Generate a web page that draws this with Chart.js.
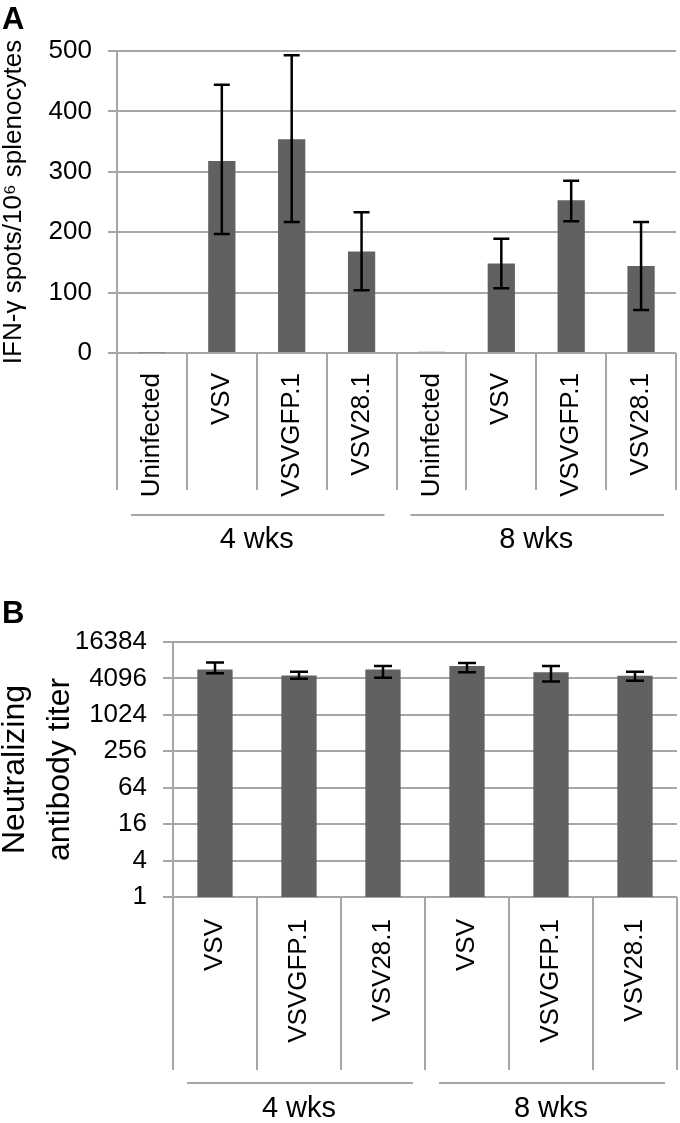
<!DOCTYPE html>
<html>
<head>
<meta charset="utf-8">
<script src="https://cdn.jsdelivr.net/npm/chart.js@4.4.1/dist/chart.umd.min.js"></script>
<style>
  html, body { margin: 0; padding: 0; background: #fff; }
  #wrap { position: relative; width: 680px; height: 1123px; }
  canvas { position: absolute; left: 0; }
</style>
</head>
<body>
<div id="wrap">
  <canvas id="chartA" width="680" height="578" style="top:0"></canvas>
  <canvas id="chartB" width="680" height="545" style="top:578px"></canvas>
</div>
<script>
// panel A - IFN-gamma ELISPOT
var spotCategories = ['Uninfected', 'VSV', 'VSVGFP.1', 'VSV28.1', 'Uninfected', 'VSV', 'VSVGFP.1', 'VSV28.1'];
var spotMeans = [1, 318, 354, 168, 2, 148, 253, 144];
var spotLow = [null, 197, 217, 104, null, 107, 218, 71];
var spotHigh = [null, 444, 493, 233, null, 189, 285, 217];

// panel B - neutralizing antibody titer (log scale)
var titerCategories = ['VSV', 'VSVGFP.1', 'VSV28.1', 'VSV', 'VSVGFP.1', 'VSV28.1'];
var titerMeans = [5760, 4600, 5760, 6550, 5180, 4550];
var titerLow = [4980, 4040, 4210, 5180, 3640, 3740];
var titerHigh = [7480, 5260, 6550, 7370, 6550, 5260];
var titerTicks = [1, 4, 16, 64, 256, 1024, 4096, 16384];

var groupNames = ['4 wks', '8 wks'];
var spotGroupSizes = [4, 4];
var titerGroupSizes = [3, 3];

var FONT = "'Liberation Sans', Arial, Helvetica, sans-serif";
var GRID = '#a6a6a6';
var BAR = '#616161';

// separators under the axis, group brackets, panel letter, error bars
var decor = {
  id: 'decor',
  afterDatasetsDraw: function(chart, args, opts) {
    var ctx = chart.ctx, ys = chart.scales.y;
    var meta = chart.getDatasetMeta(0);
    ctx.save();
    ctx.strokeStyle = '#000';
    ctx.lineWidth = 2.5;
    meta.data.forEach(function(bar, i) {
      if (opts.low[i] == null) return;
      var x = bar.x, y1 = ys.getPixelForValue(opts.low[i]), y2 = ys.getPixelForValue(opts.high[i]);
      var h = opts.capWidth / 2;
      ctx.beginPath();
      ctx.moveTo(x, y1); ctx.lineTo(x, y2);
      ctx.moveTo(x - h, y1); ctx.lineTo(x + h, y1);
      ctx.moveTo(x - h, y2); ctx.lineTo(x + h, y2);
      ctx.stroke();
    });
    ctx.restore();
  },
  afterDraw: function(chart, args, opts) {
    var ctx = chart.ctx, xs = chart.scales.x, area = chart.chartArea;
    var n = chart.data.labels.length;
    function edge(i) {
      if (i <= 0) return area.left;
      if (i >= n) return area.right;
      return (xs.getPixelForValue(i - 1) + xs.getPixelForValue(i)) / 2;
    }
    ctx.save();
    ctx.strokeStyle = GRID;
    ctx.lineWidth = 2;
    ctx.beginPath();
    for (var i = 0; i <= n; i++) {
      var x = Math.round(edge(i));
      ctx.moveTo(x, area.bottom);
      ctx.lineTo(x, opts.sepBottom);
    }
    ctx.stroke();

    ctx.fillStyle = '#000';
    ctx.font = '29px ' + FONT;
    ctx.textAlign = 'center';
    ctx.textBaseline = 'middle';
    var start = 0;
    opts.groupSizes.forEach(function(size, g) {
      var a = edge(start), b = edge(start + size);
      ctx.beginPath();
      ctx.moveTo(a + 14, opts.lineY);
      ctx.lineTo(b - 12, opts.lineY);
      ctx.stroke();
      ctx.fillText(groupNames[g], (a + b) / 2, opts.labelY);
      start += size;
    });

    ctx.font = 'bold 31px ' + FONT;
    ctx.textAlign = 'left';
    ctx.textBaseline = 'alphabetic';
    ctx.fillText(opts.panel, 2, opts.panelY);
    ctx.restore();
  }
};

function fixX(height) {
  return function(s) {
    s.height = height;
    s.paddingLeft = 0;
    s.paddingRight = 0;
  };
}

new Chart(document.getElementById('chartA'), {
  type: 'bar',
  data: {
    labels: spotCategories,
    datasets: [{
      data: spotMeans,
      backgroundColor: BAR,
      borderWidth: 0,
      barPercentage: 0.39,
      categoryPercentage: 1
    }]
  },
  options: {
    responsive: false,
    animation: false,
    layout: { padding: { top: 51, right: 4, left: 0, bottom: 0 } },
    plugins: {
      legend: { display: false },
      tooltip: { enabled: false },
      decor: {
        low: spotLow, high: spotHigh, capWidth: 16,
        groupSizes: spotGroupSizes,
        sepBottom: 490, lineY: 515, labelY: 540,
        panel: 'A', panelY: 29
      }
    },
    scales: {
      x: {
        offset: true,
        grid: { display: false, drawTicks: false },
        border: { display: false },
        ticks: { autoSkip: false, minRotation: 90, maxRotation: 90, padding: 20, color: '#000', font: { size: 26, family: FONT } },
        afterFit: fixX(225)
      },
      y: {
        min: 0,
        max: 500,
        grid: { color: GRID, lineWidth: 2, tickLength: 9 },
        border: { color: GRID, width: 2 },
        ticks: { stepSize: 100, padding: 16, color: '#000', font: { size: 26, family: FONT } },
        title: {
          display: true,
          text: 'IFN-\u03b3 spots/10\u2076 splenocytes',
          color: '#000',
          font: { size: 26, family: FONT },
          padding: { top: -2, bottom: 0 }
        },
        afterFit: function(s) { s.width = 117; }
      }
    }
  },
  plugins: [decor]
});

new Chart(document.getElementById('chartB'), {
  type: 'bar',
  data: {
    labels: titerCategories,
    datasets: [{
      data: titerMeans,
      backgroundColor: BAR,
      borderWidth: 0,
      barPercentage: 0.42,
      categoryPercentage: 1
    }]
  },
  options: {
    responsive: false,
    animation: false,
    layout: { padding: { top: 64, right: 3, left: 0, bottom: 0 } },
    plugins: {
      legend: { display: false },
      tooltip: { enabled: false },
      decor: {
        low: titerLow, high: titerHigh, capWidth: 18,
        groupSizes: titerGroupSizes,
        sepBottom: 492, lineY: 505, labelY: 531,
        panel: 'B', panelY: 45
      }
    },
    scales: {
      x: {
        offset: true,
        grid: { display: false, drawTicks: false },
        border: { display: false },
        ticks: { autoSkip: false, minRotation: 90, maxRotation: 90, padding: 22, color: '#000', font: { size: 26, family: FONT } },
        afterFit: fixX(226)
      },
      y: {
        type: 'logarithmic',
        min: 1,
        max: 16384,
        afterBuildTicks: function(s) {
          s.ticks = titerTicks.map(function(v) { return { value: v }; });
        },
        grid: { color: GRID, lineWidth: 2, tickLength: 10 },
        border: { color: GRID, width: 2 },
        ticks: {
          padding: 16, color: '#000', font: { size: 26, family: FONT },
          callback: function(v) { return String(v); }
        },
        title: {
          display: true,
          text: ['Neutralizing', 'antibody titer'],
          color: '#000',
          font: { size: 32, family: FONT, lineHeight: 1.4 },
          padding: { top: -7, bottom: 0 }
        },
        afterFit: function(s) { s.width = 173; }
      }
    }
  },
  plugins: [decor]
});
</script>
</body>
</html>
